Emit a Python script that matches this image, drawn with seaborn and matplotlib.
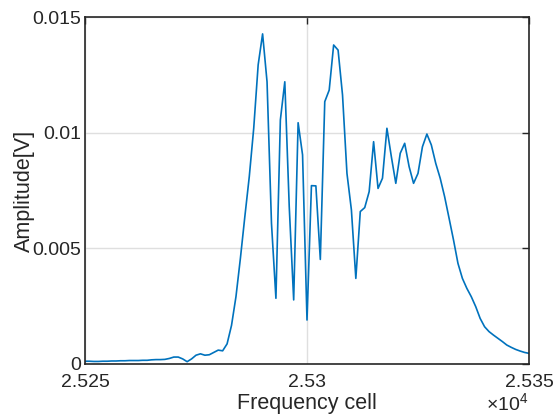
import numpy as np
import pandas as pd
import matplotlib
matplotlib.use("Agg")
import matplotlib.pyplot as plt
import seaborn as sns

# ---- data ----
cell_start = 25250
cell_stop = 25350
amplitude = [
    0.00012, 0.00012, 0.00011, 0.00011, 0.00012, 0.00012, 0.00013, 0.00013, 0.00014, 0.00014,
    0.00015, 0.00015, 0.00015, 0.00016, 0.00016, 0.00018, 0.00019, 0.00019, 0.00020, 0.00024,
    0.00030, 0.00030, 0.00022, 0.00010, 0.00022, 0.00038, 0.00044, 0.00038, 0.00040, 0.00050,
    0.00060, 0.00057, 0.00087, 0.00167, 0.00291, 0.00457, 0.00637, 0.00810, 0.01019, 0.01293,
    0.01427, 0.01220, 0.00608, 0.00284, 0.01055, 0.01220, 0.00680, 0.00277, 0.01043, 0.00904,
    0.00190, 0.00771, 0.00770, 0.00452, 0.01134, 0.01184, 0.01379, 0.01357, 0.01163, 0.00824,
    0.00666, 0.00370, 0.00659, 0.00676, 0.00745, 0.00961, 0.00759, 0.00803, 0.01019, 0.00896,
    0.00781, 0.00911, 0.00954, 0.00853, 0.00781, 0.00824, 0.00939, 0.00994, 0.00947, 0.00867,
    0.00803, 0.00723, 0.00630, 0.00536, 0.00435, 0.00370, 0.00327, 0.00291, 0.00248, 0.00197,
    0.00161, 0.00140, 0.00125, 0.00111, 0.00097, 0.00082, 0.00072, 0.00063, 0.00056, 0.00050,
    0.00046,
]
cells = np.arange(cell_start, cell_start + len(amplitude))
x_ticks = [25250, 25300, 25350]
x_tick_labels = ["2.525", "2.53", "2.535"]
y_ticks = [0, 0.005, 0.01, 0.015]
y_tick_labels = ["0", "0.005", "0.01", "0.015"]
x_label = "Frequency cell"
y_label = "Amplitude[V]"

df = pd.DataFrame({"cell": cells, "amp": amplitude})

# ---- style ----
sns.set_style("white")
plt.rcParams["font.family"] = ["Liberation Sans", "DejaVu Sans"]
plt.rcParams["mathtext.fontset"] = "custom"
plt.rcParams["mathtext.rm"] = "Liberation Sans"

axis_color = "#262626"
fig = plt.figure(figsize=(5.57, 4.20), dpi=100)
ax = fig.add_axes([85 / 557, 1 - 364 / 420, (529 - 85) / 557, (364 - 17) / 420])

sns.lineplot(data=df, x="cell", y="amp", ax=ax, color="#0072BD", linewidth=1.2)

ax.set_xlim(cell_start, cell_stop)
ax.set_ylim(0, 0.015)
ax.set_xticks(x_ticks)
ax.set_xticklabels(x_tick_labels)
ax.set_yticks(y_ticks)
ax.set_yticklabels(y_tick_labels)

ax.grid(True, color="#dfdfdf", linewidth=1.0)
ax.set_axisbelow(True)
for s in ax.spines.values():
    s.set_color(axis_color)
    s.set_linewidth(1.2)
    s.set_visible(True)

ax.tick_params(axis="both", direction="in", length=5, width=1.0, color=axis_color,
               labelcolor=axis_color, labelsize=14, top=True, right=True)
ax.tick_params(axis="x", pad=7)
ax.tick_params(axis="y", pad=3)

ax.set_xlabel(x_label, fontsize=15.5, color=axis_color, labelpad=2)
ax.set_ylabel(y_label, fontsize=15.5, color=axis_color, labelpad=-2)
ax.text(0.998, -0.082, r"$\times10^{4}$", transform=ax.transAxes, ha="right", va="top",
        fontsize=14, color=axis_color)

fig.savefig("out.png", dpi=100)
